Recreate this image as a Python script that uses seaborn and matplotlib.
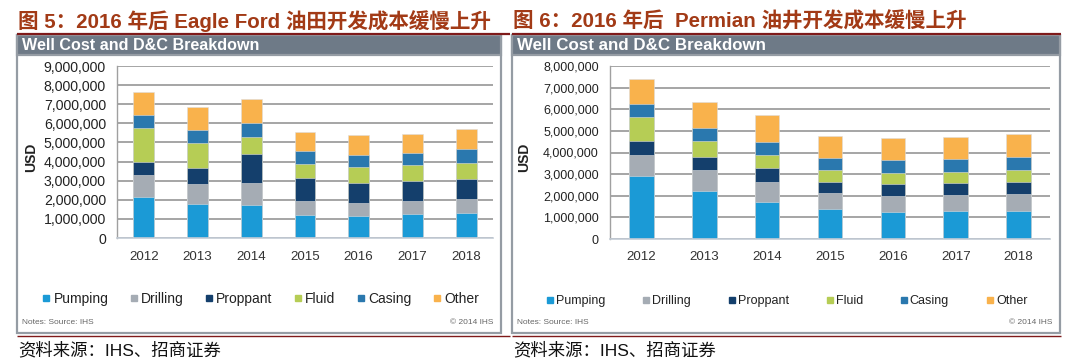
import matplotlib

matplotlib.use("Agg")
import matplotlib.pyplot as plt
import numpy as np
import pandas as pd
import seaborn as sns
from matplotlib.lines import Line2D
from matplotlib.patches import Rectangle
from matplotlib.ticker import FuncFormatter, MultipleLocator

years = ["2012", "2013", "2014", "2015", "2016", "2017", "2018"]
components = ["Pumping", "Drilling", "Proppant", "Fluid", "Casing", "Other"]
colors = ["#1b9ad6", "#a5acb4", "#143f6c", "#b6cd55", "#2a78ae", "#f9b24c"]

# Eagle Ford (USD)
ef_pumping = [2170000, 1800000, 1730000, 1200000, 1160000, 1250000, 1320000]
ef_drilling = [1110000, 1020000, 1160000, 720000, 690000, 710000, 740000]
ef_proppant = [690000, 820000, 1530000, 1200000, 1040000, 1020000, 1020000]
ef_fluid = [1770000, 1330000, 870000, 760000, 820000, 820000, 820000]
ef_casing = [690000, 700000, 710000, 660000, 640000, 650000, 740000]
ef_other = [1200000, 1160000, 1260000, 1020000, 1040000, 1010000, 1060000]

# Permian (USD)
pm_pumping = [2930000, 2230000, 1690000, 1370000, 1260000, 1290000, 1310000]
pm_drilling = [950000, 940000, 930000, 740000, 740000, 760000, 770000]
pm_proppant = [650000, 610000, 650000, 540000, 530000, 540000, 570000]
pm_fluid = [1090000, 770000, 610000, 550000, 510000, 510000, 520000]
pm_casing = [600000, 570000, 590000, 530000, 600000, 600000, 620000]
pm_other = [1190000, 1200000, 1250000, 1030000, 1010000, 1020000, 1060000]

titles = [
    "图 5：2016 年后 Eagle Ford 油田开发成本缓慢上升",
    "图 6：2016 年后  Permian 油井开发成本缓慢上升",
]
header_text = "Well Cost and D&C Breakdown"
footer_text = "资料来源：IHS、招商证券"

W, H = 1075, 364
TITLE_RED = "#a23a16"
LINE_RED = "#7f1a1a"
HEADER_GRAY = "#6e7a87"
BORDER_GRAY = "#959ca4"

sns.set_style("white")
plt.rcParams["font.family"] = ["Liberation Sans", "Noto Sans CJK SC"]


def fx(px):
    return px / W


def fy(py):
    return 1 - py / H


def draw_frame(bg, x0, x1, line_end, title, header_size):
    bg.text(x0 + 1, 21, title, fontsize=14.8, fontweight="bold", color=TITLE_RED,
            va="center", ha="left")
    bg.plot([x0, line_end], [33.5, 33.5], color=LINE_RED, lw=1.6, solid_capstyle="butt")
    bg.add_patch(Rectangle((x0, 35), x1 - x0, 298, facecolor="white",
                           edgecolor=BORDER_GRAY, lw=1.6))
    bg.add_patch(Rectangle((x0, 35), x1 - x0, 20, facecolor=HEADER_GRAY,
                           edgecolor=BORDER_GRAY, lw=1.6))
    bg.text(x0 + 5, 45.5, header_text, fontsize=header_size, fontweight="bold",
            color="white", va="center", ha="left")
    bg.text(x0 + 5, 322, "Notes: Source: IHS", fontsize=6, color="#666666",
            va="center", ha="left")
    bg.text(x1 - 8, 322, "© 2014 IHS", fontsize=6, color="#666666",
            va="center", ha="right")
    bg.plot([x0, line_end], [336, 336], color=LINE_RED, lw=1.0, solid_capstyle="butt")
    bg.text(x0 + 1, 350, footer_text, fontsize=12.5, color="#111111",
            va="center", ha="left")


def draw_stack(ax, parts, ymax, tick_size, label_x):
    df = pd.DataFrame(dict(zip(components, parts)), index=years)
    cum = df.cumsum(axis=1)
    for comp, color in reversed(list(zip(components, colors))):
        sns.barplot(x=list(cum.index), y=cum[comp].values, color=color, width=0.39,
                    saturation=1, errorbar=None, edgecolor="#dddddd", linewidth=0.4, ax=ax)
    ax.set_xlim(-0.5, len(years) - 0.5)
    ax.set_ylim(0, ymax)
    ax.yaxis.set_major_locator(MultipleLocator(1000000))
    ax.yaxis.set_major_formatter(FuncFormatter(lambda v, p: f"{v:,.0f}"))
    ax.yaxis.grid(True, color="#9e9e9e", lw=1.3)
    ax.set_axisbelow(True)
    for side in ["top", "right"]:
        ax.spines[side].set_visible(False)
    ax.spines["left"].set_color("#a0a0a0")
    ax.spines["left"].set_linewidth(1.0)
    ax.spines["bottom"].set_color("#c3ccd6")
    ax.spines["bottom"].set_linewidth(1.2)
    ax.tick_params(axis="y", length=0, pad=8, labelsize=tick_size, labelcolor="#222222")
    ax.tick_params(axis="x", length=0, pad=9, labelsize=9.6, labelcolor="#333333")
    ax.set_xticks(np.arange(len(years)), years)
    ax.set_xticks(np.arange(len(years) + 1) - 0.5, minor=True)
    ax.tick_params(axis="x", which="minor", direction="in", length=4, color="#8a8a8a")
    ax.set_xlabel("")
    ax.set_ylabel("USD", fontsize=10, fontweight="bold", color="#222222")
    ax.yaxis.set_label_coords(label_x, 0.47)


def draw_legend(ax, center_x, y, spacing, size):
    handles = [Line2D([], [], marker="s", linestyle="none", markersize=4.2,
                      markerfacecolor=c, markeredgecolor=c) for c in colors]
    ax.legend(handles, components, loc="center", bbox_to_anchor=(fx(center_x), fy(y)),
              bbox_transform=ax.figure.transFigure, ncol=6, frameon=False,
              handlelength=0.5, handletextpad=0.25, columnspacing=spacing,
              prop={"size": size}, labelcolor="#222222")


fig = plt.figure(figsize=(W / 100, H / 100), dpi=100)
bg = fig.add_axes([0, 0, 1, 1])
bg.set_xlim(0, W)
bg.set_ylim(H, 0)
bg.axis("off")

draw_frame(bg, 17, 501, 510, titles[0], 11.6)
draw_frame(bg, 512, 1060, 1061, titles[1], 12.2)

ax1 = fig.add_axes([fx(117), fy(238), fx(493 - 117), (238 - 66) / H])
draw_stack(ax1, [ef_pumping, ef_drilling, ef_proppant, ef_fluid, ef_casing, ef_other],
           9000000, 10.2, -0.21)
draw_legend(ax1, 261, 299, 1.6, 10)

ax2 = fig.add_axes([fx(610), fy(239), fx(1050 - 610), (239 - 66) / H])
draw_stack(ax2, [pm_pumping, pm_drilling, pm_proppant, pm_fluid, pm_casing, pm_other],
           8000000, 9.0, -0.18)
draw_legend(ax2, 787, 301, 3.0, 9)

fig.savefig("out.png", dpi=100)
